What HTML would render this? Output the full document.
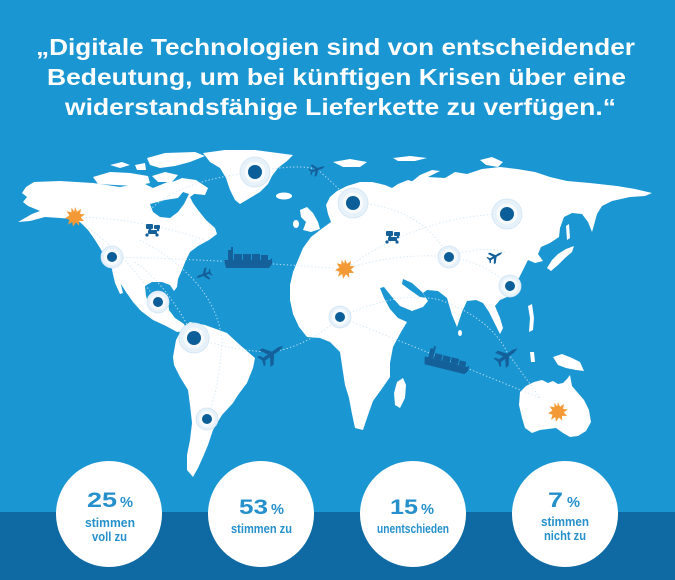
<!DOCTYPE html>
<html><head><meta charset="utf-8"><style>
html,body{margin:0;padding:0;background:#1a96d2;}
svg{display:block;}
</style></head><body>
<svg width="675" height="580" viewBox="0 0 675 580" xmlns="http://www.w3.org/2000/svg">
<defs>
<g id="plane"><path d="M10,0 L6,-1.4 L0,-1.4 L-5,-8 L-8,-8 L-4,-1.4 L-8.5,-1.4 L-10.5,-4.5 L-12,-4.5 L-10.5,0 L-12,4.5 L-10.5,4.5 L-8.5,1.4 L-4,1.4 L-8,8 L-5,8 L0,1.4 L6,1.4 Z"/></g>
<g id="star"><polygon points="0,-10 2,-5.2 6,-8 5.1,-3 10,-2.6 5.8,0.3 9,4 4,3.9 4.2,8.8 1,5.4 -2,9.8 -2.8,5 -7,7.8 -5.5,2.8 -10,1.2 -5.6,-1.5 -8.4,-5.8 -3.6,-4.6 -3.5,-9.4 -0.8,-5.4" fill="#f39a36"/></g>
<g id="ship"><path d="M-24,1 L22,1 L24,-1 L24,5 L21,9 L-22,9 Z"/><rect x="-20" y="-9" width="3" height="10"/><rect x="-17" y="-12" width="2" height="13"/><rect x="-14" y="-5" width="8" height="6"/><rect x="-5" y="-5" width="8" height="6"/><rect x="4" y="-5" width="8" height="6"/><rect x="13" y="-4" width="7" height="5"/></g>
<g id="car"><rect x="-7" y="-6" width="7" height="5" rx="1"/><rect x="1" y="-5" width="6" height="4" rx="1"/><rect x="-5" y="0" width="9" height="4" rx="1"/><circle cx="-6" cy="5" r="1.6"/><circle cx="4" cy="5" r="1.6"/><circle cx="-3" cy="-1" r="1.3"/><circle cx="5" cy="0" r="1.3"/></g>
</defs>

<rect x="0" y="0" width="675" height="512" fill="#1a96d2"/>
<rect x="0" y="512" width="675" height="68" fill="#0f69a3"/>

<!-- Title -->
<g font-family="'Liberation Sans', sans-serif" font-weight="bold" font-size="23.5" fill="#ffffff">
<text x="36" y="55" textLength="599" lengthAdjust="spacingAndGlyphs">„Digitale Technologien sind von entscheidender</text>
<text x="47" y="85" textLength="579" lengthAdjust="spacingAndGlyphs">Bedeutung, um bei künftigen Krisen über eine</text>
<text x="65" y="115" textLength="551" lengthAdjust="spacingAndGlyphs">widerstandsfähige Lieferkette zu verfügen.“</text>
</g>

<!-- Map -->
<g fill="#ffffff">
<!-- North America -->
<path d="M18,222 L32,214 L40,211 L28,206 L23,202 L27,197 L22,193 L26,187 L34,182 L60,181 L93,183 L120,187 L143,183 L153,188 L170,181 L183,184 L197,192 L190,197 L193,203 L198,210 L206,220 L215,228 L217,234 L209,240 L198,246 L190,252 L186,260 L182,270 L178,279 L177,287 L174,291 L170,285 L162,282 L152,282 L145,286 L146,296 L149,305 L155,310 L161,309 L163,301 L168,299 L169,310 L175,318 L184,324 L187,331 L177,332 L166,326 L153,320 L141,311 L133,302 L126,292 L119,281 L113,271 L108,262 L104,255 L100,248 L95,240 L88,230 L80,222 L72,219 L60,218 L45,217 L30,221 Z"/>
<path d="M112,270 L116,271 L120,281 L123,293 L120,294 L115,283 Z"/>
<!-- Arctic islands -->
<path d="M93,177 L110,172 L130,173 L148,176 L150,183 L135,186 L115,185 L98,184 Z"/>
<path d="M110,165 L122,162 L130,165 L120,168 Z"/>
<path d="M135,165 L145,163 L146,170 L137,170 Z"/>
<path d="M147,158 L165,153 L195,152 L205,156 L190,162 L175,166 L160,168 L150,165 Z"/>
<path d="M152,176 L165,172 L178,175 L172,182 L158,182 Z"/>
<path d="M170,183 L182,178 L196,180 L208,188 L205,195 L195,194 L185,190 L176,188 Z"/>
<!-- Greenland -->
<path d="M203,153 L225,150 L255,150 L293,155 L287,161 L278,168 L272,176 L268,184 L260,192 L250,198 L240,204 L235,200 L230,190 L226,178 L220,168 L210,162 Z"/>
<ellipse cx="284" cy="196" rx="8" ry="3.5"/>
<!-- UK / Ireland -->
<path d="M300,210 L307,207 L313,213 L318,222 L320,229 L311,232 L303,230 L306,222 L301,217 Z"/>
<ellipse cx="296" cy="224" rx="3" ry="4"/>
<!-- Arctic Eurasia islands -->
<path d="M333,162 L350,159 L367,162 L360,167 L343,167 Z"/>
<path d="M393,158 L410,156 L427,158 L415,161 L398,161 Z"/>
<path d="M410,183 L420,175 L432,170 L440,171 L428,177 L418,184 Z"/>
<path d="M480,160 L492,157 L503,162 L498,167 L486,165 Z"/>
<!-- Eurasia + Africa -->
<path d="M326,205 L330,197 L337,191 L347,186 L360,182 L372,182 L385,185 L392,188 L398,184 L408,180 L418,183 L428,177 L445,178 L455,172 L467,174 L482,169 L500,167 L517,169 L535,172 L550,177 L567,181 L590,183 L617,186 L635,189 L652,193 L645,196 L630,197 L612,201 L602,206 L597,214 L594,225 L592,232 L588,222 L582,214 L572,213 L564,217 L560,228 L559,237 L550,243 L541,247 L538,254 L543,261 L535,263 L528,260 L523,270 L518,280 L512,291 L507,297 L500,300 L495,306 L500,318 L503,328 L500,334 L494,322 L489,312 L483,303 L476,300 L467,301 L462,312 L457,327 L452,315 L447,298 L438,291 L427,290 L423,293 L428,301 L423,307 L412,311 L400,306 L392,297 L384,287 L380,288 L384,298 L390,309 L398,318 L407,322 L401,332 L393,347 L390,363 L390,377 L381,390 L373,401 L367,418 L363,430 L355,428 L352,414 L349,398 L345,385 L343,372 L340,352 L330,342 L320,338 L307,337 L299,327 L293,314 L290,300 L290,285 L293,272 L298,260 L303,248 L311,237 L320,230 L331,222 L328,214 Z"/>
<!-- Japan, Sakhalin, islands -->
<path d="M547,268 L552,260 L558,254 L566,249 L574,246 L572,252 L565,258 L558,265 L551,271 Z"/>
<path d="M566,226 L569,224 L570,238 L567,240 Z"/>
<ellipse cx="460" cy="333" rx="2" ry="3"/>
<path d="M528,306 L532,304 L534,318 L533,330 L529,332 L530,318 Z"/>
<path d="M530,352 L534,352 L535,362 L531,362 Z"/>
<path d="M553,357 L562,354 L572,358 L580,362 L584,371 L576,370 L566,368 L558,365 Z"/>
<!-- Madagascar -->
<path d="M397,382 L403,378 L406,385 L405,398 L400,408 L395,405 L394,393 Z"/>
<!-- South America -->
<path d="M183,327 L190,322 L205,325 L227,333 L240,345 L255,358 L253,368 L247,383 L238,395 L233,403 L222,415 L213,430 L208,445 L203,457 L198,468 L193,477 L187,470 L187,455 L190,440 L192,423 L190,405 L188,390 L180,377 L174,365 L173,357 L176,340 Z"/>
<!-- Australia -->
<path d="M520,392 L526,386 L534,382 L542,380 L548,383 L553,381 L558,384 L563,383 L567,379 L570,375 L572,386 L578,393 L584,400 L589,410 L591,422 L586,431 L578,436 L570,437 L563,433 L556,428 L548,429 L540,430 L532,433 L525,428 L522,418 L519,405 Z"/>
</g>
<!-- water overlays -->
<g fill="#1a96d2">
<path d="M150,204 L165,200 L178,198 L183,192 L189,194 L184,204 L178,212 L170,218 L160,217 L153,212 Z"/>
<path d="M403,279 L412,283 L422,292 L426,298 L420,297 L410,290 L402,284 Z"/>
</g>

<!-- Routes -->
<g fill="none" stroke="#cfe5f4" stroke-width="1" stroke-dasharray="1.3 2.2" opacity="0.9">
<path d="M75,217 Q140,218 205,240"/>
<path d="M80,222 Q125,252 158,303"/>
<path d="M112,257 Q230,260 345,269"/>
<path d="M150,210 Q180,180 255,172"/>
<path d="M255,172 Q300,163 318,170 Q330,180 353,203"/>
<path d="M135,262 Q168,285 194,338"/>
<path d="M140,240 Q215,280 222,340 Q220,385 207,419"/>
<path d="M194,338 Q240,352 273,352 Q310,345 340,317"/>
<path d="M353,203 Q420,205 449,257"/>
<path d="M345,269 Q420,215 507,214"/>
<path d="M345,269 Q400,252 449,257"/>
<path d="M449,257 Q485,262 510,286"/>
<path d="M449,257 Q480,245 505,252"/>
<path d="M340,317 L447,360 L540,398"/>
<path d="M340,317 Q400,290 440,300 Q490,318 507,352 L540,398"/>
</g>

<!-- Dots -->
<g>
<g transform="translate(255,172)"><circle r="15" fill="#e6f1f9" stroke="#cfe4f3" stroke-width="0.8"/><circle r="10.5" fill="#f6fafd"/><circle r="7" fill="#0b5e97"/></g>
<g transform="translate(353,203)"><circle r="15" fill="#e6f1f9" stroke="#cfe4f3" stroke-width="0.8"/><circle r="10.5" fill="#f6fafd"/><circle r="7" fill="#0b5e97"/></g>
<g transform="translate(507,214)"><circle r="15" fill="#e6f1f9" stroke="#cfe4f3" stroke-width="0.8"/><circle r="10.5" fill="#f6fafd"/><circle r="7" fill="#0b5e97"/></g>
<g transform="translate(194,338)"><circle r="15" fill="#e6f1f9" stroke="#cfe4f3" stroke-width="0.8"/><circle r="10.5" fill="#f6fafd"/><circle r="7" fill="#0b5e97"/></g>
<g transform="translate(112,257)"><circle r="11" fill="#e6f1f9" stroke="#cfe4f3" stroke-width="0.8"/><circle r="8" fill="#f6fafd"/><circle r="5" fill="#0b5e97"/></g>
<g transform="translate(158,302)"><circle r="11" fill="#e6f1f9" stroke="#cfe4f3" stroke-width="0.8"/><circle r="8" fill="#f6fafd"/><circle r="5" fill="#0b5e97"/></g>
<g transform="translate(207,419)"><circle r="11" fill="#e6f1f9" stroke="#cfe4f3" stroke-width="0.8"/><circle r="8" fill="#f6fafd"/><circle r="5" fill="#0b5e97"/></g>
<g transform="translate(449,257)"><circle r="11" fill="#e6f1f9" stroke="#cfe4f3" stroke-width="0.8"/><circle r="8" fill="#f6fafd"/><circle r="5" fill="#0b5e97"/></g>
<g transform="translate(510,286)"><circle r="11" fill="#e6f1f9" stroke="#cfe4f3" stroke-width="0.8"/><circle r="8" fill="#f6fafd"/><circle r="5" fill="#0b5e97"/></g>
<g transform="translate(340,317)"><circle r="11" fill="#e6f1f9" stroke="#cfe4f3" stroke-width="0.8"/><circle r="8" fill="#f6fafd"/><circle r="5" fill="#0b5e97"/></g>
</g>

<!-- Stars -->
<use href="#star" transform="translate(75,217)"/>
<use href="#star" transform="translate(345,269)"/>
<use href="#star" transform="translate(558,412)"/>

<!-- Icons -->
<g fill="#14609a">
<use href="#plane" transform="translate(318,169) rotate(-20) scale(0.75)"/>
<use href="#plane" transform="translate(203,275) rotate(160) scale(0.75)"/>
<use href="#plane" transform="translate(273,353) rotate(-35) scale(1.25)"/>
<use href="#plane" transform="translate(496,256) rotate(-30) scale(0.75)"/>
<use href="#plane" transform="translate(508,355) rotate(-35) scale(1.15)"/>
<use href="#ship" transform="translate(248,259)"/>
<use href="#ship" transform="translate(447,361) rotate(14) scale(0.95)"/>
<use href="#car" transform="translate(153,230)"/>
<use href="#car" transform="translate(393,237)"/>
</g>

<!-- Stat circles -->
<g fill="#ffffff">
<circle cx="109" cy="514" r="53"/>
<circle cx="261" cy="514" r="53"/>
<circle cx="413" cy="514" r="53"/>
<circle cx="565" cy="514" r="53"/>
</g>
<g font-family="'Liberation Sans', sans-serif" font-weight="bold" fill="#2590cb">
<text x="87" y="507" font-size="21" textLength="30" lengthAdjust="spacingAndGlyphs">25</text>
<text x="120" y="507" font-size="15" textLength="13" lengthAdjust="spacingAndGlyphs">%</text>
<text x="85" y="527" font-size="13" textLength="50" lengthAdjust="spacingAndGlyphs">stimmen</text>
<text x="92" y="541" font-size="13" textLength="35" lengthAdjust="spacingAndGlyphs">voll zu</text>

<text x="239" y="514" font-size="21" textLength="29" lengthAdjust="spacingAndGlyphs">53</text>
<text x="271" y="514" font-size="15" textLength="13" lengthAdjust="spacingAndGlyphs">%</text>
<text x="231" y="533" font-size="13" textLength="61" lengthAdjust="spacingAndGlyphs">stimmen zu</text>

<text x="390" y="514" font-size="21" textLength="28" lengthAdjust="spacingAndGlyphs">15</text>
<text x="421" y="514" font-size="15" textLength="13" lengthAdjust="spacingAndGlyphs">%</text>
<text x="377" y="533" font-size="13" textLength="72" lengthAdjust="spacingAndGlyphs">unentschieden</text>

<text x="548" y="507" font-size="21" textLength="15" lengthAdjust="spacingAndGlyphs">7</text>
<text x="567" y="507" font-size="15" textLength="13" lengthAdjust="spacingAndGlyphs">%</text>
<text x="541" y="526" font-size="13" textLength="48" lengthAdjust="spacingAndGlyphs">stimmen</text>
<text x="544" y="540" font-size="13" textLength="42" lengthAdjust="spacingAndGlyphs">nicht zu</text>
</g>
</svg>
</body></html>
